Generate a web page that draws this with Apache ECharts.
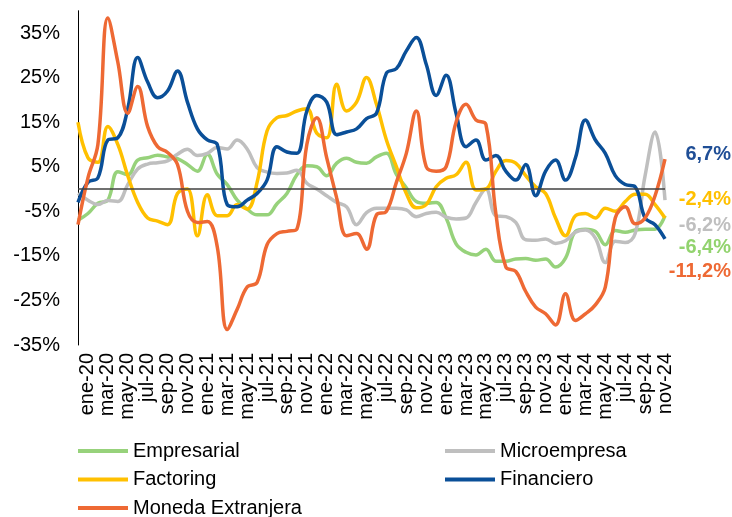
<!DOCTYPE html>
<html><head><meta charset="utf-8">
<style>html,body{margin:0;padding:0;background:#fff}#c{width:732px;height:517px}</style>
<script src="https://cdn.jsdelivr.net/npm/echarts@6.0.0/dist/echarts.min.js"></script>
</head><body><div id="c"></div>
<script>
// first category (dic-19) sits on the y-axis, its label is not shown
const months = ['dic-19',
'ene-20','feb-20','mar-20','abr-20','may-20','jun-20','jul-20','ago-20','sep-20','oct-20','nov-20','dic-20',
'ene-21','feb-21','mar-21','abr-21','may-21','jun-21','jul-21','ago-21','sep-21','oct-21','nov-21','dic-21',
'ene-22','feb-22','mar-22','abr-22','may-22','jun-22','jul-22','ago-22','sep-22','oct-22','nov-22','dic-22',
'ene-23','feb-23','mar-23','abr-23','may-23','jun-23','jul-23','ago-23','sep-23','oct-23','nov-23','dic-23',
'ene-24','feb-24','mar-24','abr-24','may-24','jun-24','jul-24','ago-24','sep-24','oct-24','nov-24'];

const empresarial = [-7,
-5.5,-3.2,-2.5,3.9,3.2,6.5,7,7.6,7.2,6.8,5.5,4,7.8,3.3,1,
-2.5,-4.5,-5.8,-5.8,-3.3,-1,3.2,5.2,5,3,5.8,6.9,6,5.8,7.2,
8,3.3,0.3,-2.8,-3.2,-3,-6.5,-12.3,-14.2,-14.8,-13.5,-16.2,-16.2,-15.7,-15.6,
-16,-15.7,-17.5,-15.5,-9.5,-9,-9.5,-12.5,-9.3,-9.7,-9.2,-9,-9,-6];

const microempresa = [-1,
-2.5,-3.5,-2.6,-2.8,1,4.5,5.6,5.9,6.3,7.8,8.9,7.5,8,9.3,9,
11,9,4.8,3.8,3.5,3.6,4.2,1.3,0,-1.5,-3,-4,-8,-5.3,-4.3,
-4.3,-4.3,-4.7,-6.2,-5.5,-5.2,-6.3,-6.7,-6.5,-3,0,-6,-6.2,-7.5,-11.4,
-11.5,-11.2,-12.2,-11.6,-9.7,-9.2,-11,-16.5,-11.7,-12,-10,3,12.8,-2.5];

const factoring = [15,
7,6,14,10,3,-3,-6.5,-7.2,-8,-1,0,-10.5,-1.3,-6,-6,
-3.5,-4.5,1.5,13,16,16.5,17.5,18,12.5,11.5,23.5,17.5,19.5,25,19,
11,5,-1,-4.2,-3.5,0.5,2.4,3.2,6,-0.2,0,4,6.4,5.8,3,
0.5,-1,-6.5,-10.5,-6,-5.5,-6.5,-4.3,-5,-2.8,-1.2,-1.2,-3.5,-6.5];

const financiero = [-3,
1.5,2.5,11,11.5,18,29.5,24,20.5,22,26.5,19.5,13.5,11,10,-3.5,
-4,-2.5,-1,2,9.5,8.3,8,17.5,21,19.5,12.2,12.8,13.5,15.8,17,
26,27,31,34,28,21,25.5,17,9.5,11,6.5,7.5,4,2,5.5,
-1.5,4,6.5,2,7,15.5,11,8,3,1,0.5,-6.5,-8,-11.2];

const monedaExtranjera = [-8,
2.5,10,38.4,28.5,17,23,14,9.5,8.2,5.5,-5,-7.5,-7.3,-13,-31.5,
-27,-22,-21,-12.5,-10,-9.5,-9,10,16,7,-2,-10.5,-10,-13.5,-5.8,
-5,1.5,8,17.5,5,4,5,15,19,15.5,14.5,-5.5,-17.5,-18.5,-23,
-26.5,-28,-30.5,-23.5,-29.5,-28,-26,-22,-6.5,-4,-7.8,-6.5,-1.5,6.7];

const yTickLabels = [-35,-25,-15,-5,5,15,25,35];
const endLabels = ['6,7%','-2,4%','-6,2%','-6,4%','-11,2%'];

const FONT = 'Liberation Sans, Arial, sans-serif';
const colors = {
  Empresarial: '#97D27B',
  Microempresa: '#BFBFBF',
  Factoring: '#FFC000',
  Financiero: '#0A4F98',
  'Moneda Extranjera': '#EE6934'
};
const endLabelColors = ['#1F4E96','#FFC000','#BFBFBF','#92D36E','#EE6934'];
const endLabelY = [155, 200, 226, 248, 272];

function mkSeries(name, data, extra) {
  return Object.assign({
    name: name, type: 'line', data: data, smooth: 0.4,
    showSymbol: false, symbol: 'none',
    lineStyle: {width: 3.5, color: colors[name]},
    itemStyle: {color: colors[name]},
    animation: false
  }, extra || {});
}

const chart = echarts.init(document.getElementById('c'), null, {renderer: 'canvas'});
chart.setOption({
  animation: false,
  backgroundColor: '#fff',
  grid: {left: 78, right: 67, top: 10.75, bottom: 172, outerBoundsMode: 'none', containLabel: false},
  xAxis: {
    type: 'category', data: months, boundaryGap: false,
    axisLine: {show: false}, axisTick: {show: false}, splitLine: {show: false},
    axisLabel: {
      rotate: 90, margin: 8, fontSize: 20, color: '#000', fontFamily: FONT,
      interval: function (idx) { return idx % 2 === 1; }
    }
  },
  yAxis: {
    type: 'value', min: -35, max: 40, interval: 5,
    splitLine: {show: false}, axisTick: {show: false},
    axisLine: {show: true, lineStyle: {color: '#000', width: 1}},
    axisLabel: {
      margin: 18, fontSize: 20, color: '#000', fontFamily: FONT,
      formatter: function (v) {
        const r = Math.round(v);
        return yTickLabels.indexOf(r) >= 0 ? r + '%' : '';
      }
    }
  },
  legend: [
    {
      data: ['Empresarial', 'Factoring', 'Moneda Extranjera'],
      orient: 'vertical', left: 78, top: 441, height: 150, itemWidth: 50, itemHeight: 4, itemGap: 8.5,
      icon: 'rect', padding: 0,
      textStyle: {fontSize: 20, color: '#000', fontFamily: FONT, lineHeight: 20}
    },
    {
      data: ['Microempresa', 'Financiero'],
      orient: 'vertical', left: 445, top: 441, height: 150, itemWidth: 50, itemHeight: 4, itemGap: 8.5,
      icon: 'rect', padding: 0,
      textStyle: {fontSize: 20, color: '#000', fontFamily: FONT, lineHeight: 20}
    }
  ],
  series: [
    mkSeries('Empresarial', empresarial, {
      markLine: {
        silent: true, symbol: ['none', 'none'], animation: false,
        label: {show: false},
        lineStyle: {color: '#404040', width: 1.5, type: 'solid'},
        data: [{yAxis: 0}]
      }
    }),
    mkSeries('Microempresa', microempresa),
    mkSeries('Factoring', factoring),
    mkSeries('Financiero', financiero),
    mkSeries('Moneda Extranjera', monedaExtranjera)
  ],
  graphic: endLabels.map(function (t, i) {
    return {
      type: 'text', right: 1, top: endLabelY[i] - 11, silent: true,
      style: {text: t, fill: endLabelColors[i], font: 'bold 20px ' + FONT, textAlign: 'right'}
    };
  })
});
</script></body></html>
